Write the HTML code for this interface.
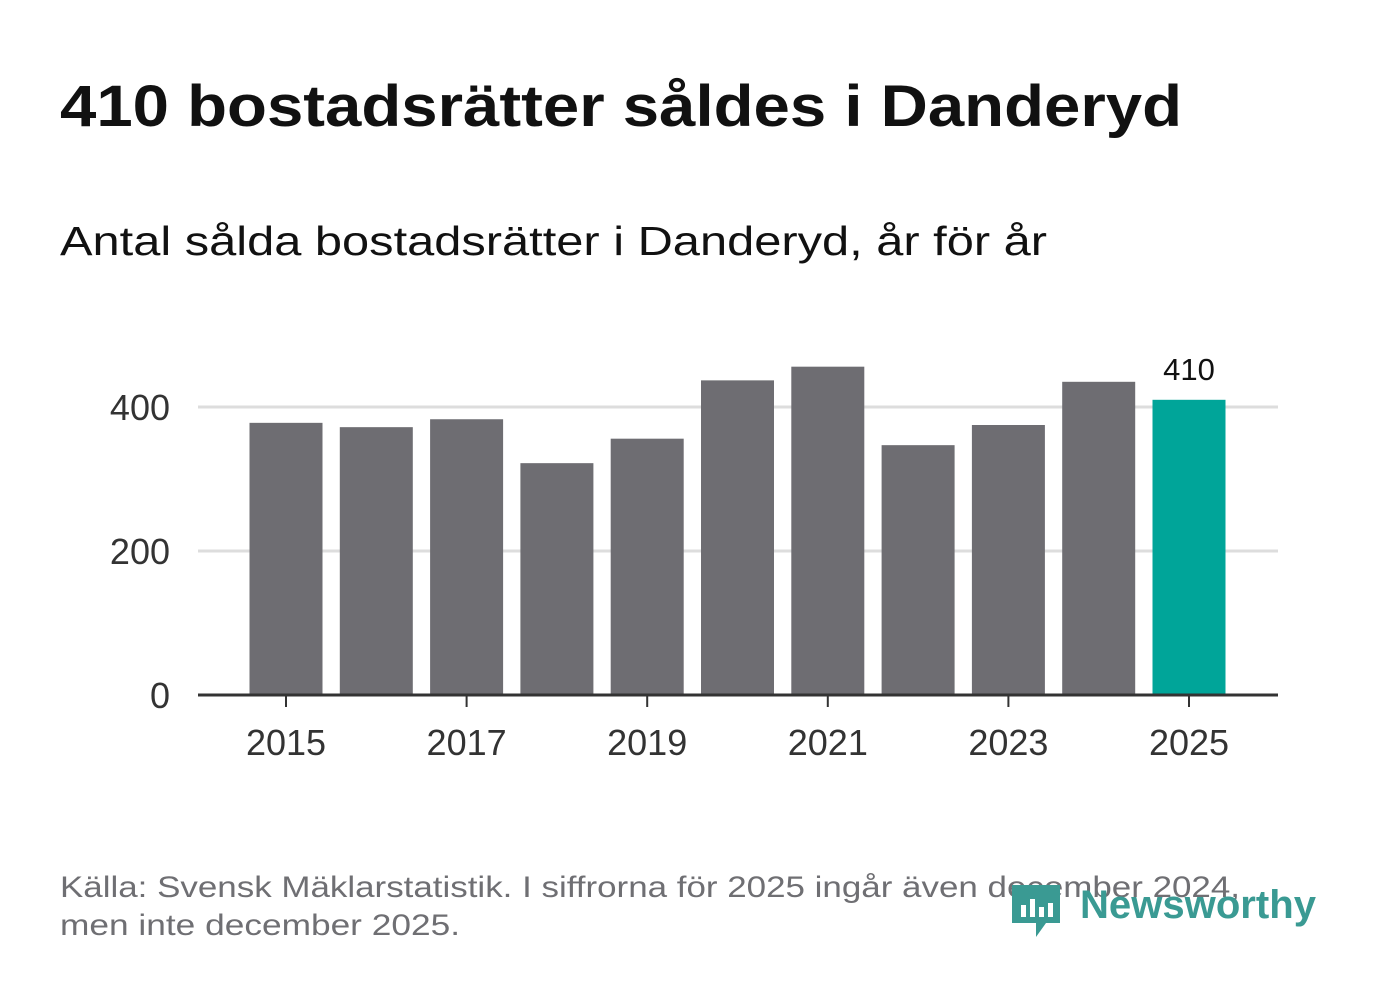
<!DOCTYPE html>
<html><head><meta charset="utf-8"><style>
body{margin:0;background:#fff;width:1382px;height:999px;overflow:hidden;font-family:"Liberation Sans",sans-serif;}
svg{position:absolute;left:0;top:0}
</style></head><body>
<svg width="1382" height="999">
<text x="60" y="126" font-size="58" font-weight="bold" fill="#111" textLength="1122" lengthAdjust="spacingAndGlyphs">410 bostadsrätter såldes i Danderyd</text>
<text x="60" y="255" font-size="41" fill="#111" textLength="987" lengthAdjust="spacingAndGlyphs">Antal sålda bostadsrätter i Danderyd, år för år</text>
<g id="grid"></g><g id="bars"></g><g id="axis"></g>
<text x="60" y="897" font-size="30" fill="#6f6f73" textLength="1180" lengthAdjust="spacingAndGlyphs">Källa: Svensk Mäklarstatistik. I siffrorna för 2025 ingår även december 2024,</text>
<text x="60" y="935" font-size="30" fill="#6f6f73" textLength="400" lengthAdjust="spacingAndGlyphs">men inte december 2025.</text>
<g>
<path d="M1012 885 h48 v38 h-14 l-10 14 v-14 h-24 z" fill="#3a9a93"/>
<rect x="1021" y="905" width="5" height="12" fill="#fff"/><rect x="1030" y="899" width="5" height="18" fill="#fff"/><rect x="1039" y="907" width="5" height="10" fill="#fff"/><rect x="1048" y="903" width="5" height="14" fill="#fff"/>
<text x="1080" y="918" font-size="40" font-weight="bold" fill="#3a9a93" textLength="236" lengthAdjust="spacingAndGlyphs">Newsworthy</text>
</g>
</svg>
<script>
const years=[2015,2016,2017,2018,2019,2020,2021,2022,2023,2024,2025];
const values=[378,372,383,322,356,437,456,347,375,435,410];
const yTicks=[0,200,400];
const ns="http://www.w3.org/2000/svg";
const y0=695,ppu=0.72,x0=286,step=90.3,bw=73;
const y=v=>y0-v*ppu, x=i=>x0+i*step;
function mk(t,a,p){const e=document.createElementNS(ns,t);for(const k in a)e.setAttribute(k,a[k]);document.getElementById(p).appendChild(e);return e;}
yTicks.forEach(t=>{
 if(t>0){const l=mk('line',{x1:198,x2:1278,y1:y(t),y2:y(t),stroke:'#ddd','stroke-width':3},'grid');
 
 }
 const tx=mk('text',{x:170,y:y(t)+13,'font-size':36,fill:'#333','text-anchor':'end'},'axis');tx.textContent=t;
 
 
});
values.forEach((v,i)=>{
 const last=i===values.length-1;
 const r=mk('rect',{x:x(i)-bw/2,y:y(v),width:bw,height:y0-y(v),fill:last?'#00a599':'#6e6d72'},'bars');
 
 
 if(last){const t=mk('text',{x:x(i),y:y(v)-20,'font-size':31,fill:'#111','text-anchor':'middle'},'bars');t.textContent=v;
 
 }
 if(years[i]%2===1){
  const tk=mk('line',{x1:x(i),x2:x(i),y1:y0,y2:y0+12,stroke:'#333','stroke-width':2},'axis');
  
  
  const tl=mk('text',{x:x(i),y:y0+60,'font-size':36,fill:'#333','text-anchor':'middle'},'axis');tl.textContent=years[i];
  
  
 }
});
const ax=mk('line',{x1:198,x2:1278,y1:y0,y2:y0,stroke:'#333','stroke-width':3},'axis');


</script>
</body></html>
